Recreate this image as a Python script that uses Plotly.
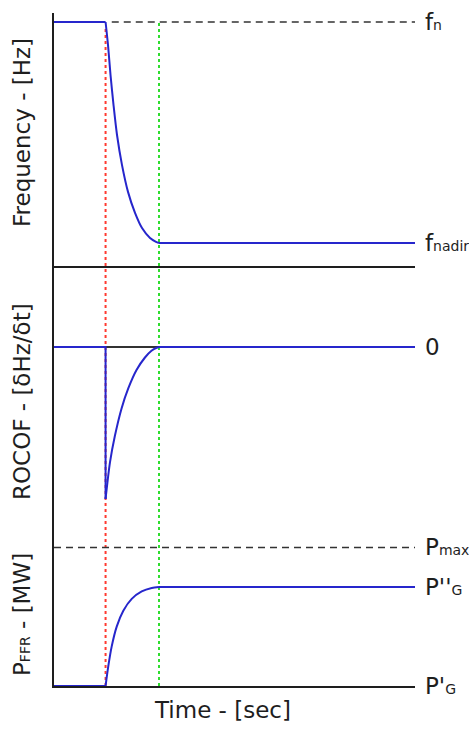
import plotly.graph_objects as go

# ---------------- data ----------------
# Frequency panel (Hz)
t_freq = [0, 1.0, 1.047, 1.096, 1.154, 1.222, 1.319, 1.435, 1.571, 1.707, 1.862, 1.978, 2.036, 7.0]
freq = [50.0, 50.0, 49.917, 49.808, 49.700, 49.591, 49.482, 49.385, 49.309, 49.254, 49.218, 49.204, 49.2, 49.2]
f_n = 50.0
f_nadir = 49.2

# ROCOF panel (normalised)
t_rocof = [0, 1.0, 1.0, 1.086, 1.18, 1.31, 1.44, 1.60, 1.76, 1.89, 1.99, 2.036, 7.0]
rocof = [0, 0, -0.99, -0.75, -0.58, -0.40, -0.27, -0.15, -0.07, -0.025, -0.005, 0, 0]

# FFR power panel (normalised, P'G = 0, P''G = 1)
t_p = [0, 1.0, 1.053, 1.119, 1.216, 1.344, 1.507, 1.701, 1.895, 2.036, 7.0]
p_ffr = [0, 0, 0.20, 0.40, 0.60, 0.76, 0.88, 0.955, 0.99, 1.0, 1.0]
p_g1 = 0.0
p_g2 = 1.0
p_max = 1.4

t_event = 1.0
t_nadir = 2.036
t_end = 7.0
t_fn_dash_start = 1.12

# ---------------- geometry (pixels of the 469x731 page) ----------------
W, H = 469, 731
L, R, T, B = 54, 54, 13, 45
top_px, bot_px = T, H - B           # 13 .. 686
ph = bot_px - top_px


def paper_y(px):
    return (bot_px - px) / ph


def rng(v1, p1, v2, p2, ptop, pbot):
    k = (v1 - v2) / (p2 - p1)       # value per pixel (upwards)
    return [v2 - (pbot - p2) * k, v1 + (p1 - ptop) * k]


p1_top, p1_bot = 13, 266
p2_top, p2_bot = 266, 520
p3_top, p3_bot = 520, 686

y1_range = rng(f_n, 22, f_nadir, 243, p1_top, p1_bot)
y2_range = rng(0, 347, -0.99, 499, p2_top, p2_bot)
y3_range = rng(p_g2, 587, p_g1, 686, p3_top, p3_bot)

BLUE = "#2626cc"
BLACK = "#1e1e1e"
FONT = "DejaVu Sans"

fig = go.Figure()

# reference dashed lines
fig.add_trace(go.Scatter(x=[t_fn_dash_start, t_end], y=[f_n, f_n], mode="lines",
                         line=dict(color="#333333", width=1.5, dash="7px,5px"),
                         xaxis="x", yaxis="y", hoverinfo="skip"))
fig.add_trace(go.Scatter(x=[0, t_end], y=[p_max, p_max], mode="lines",
                         line=dict(color="#333333", width=1.5, dash="7px,5px"),
                         xaxis="x3", yaxis="y3", hoverinfo="skip"))


def add_series(tx, ty, xa, ya, i0, i1):
    """flat parts drawn straight, transient part (indices i0..i1) smoothed"""
    fig.add_trace(go.Scatter(x=tx[:i0 + 1], y=ty[:i0 + 1], mode="lines",
                             line=dict(color=BLUE, width=2), xaxis=xa, yaxis=ya, cliponaxis=False))
    fig.add_trace(go.Scatter(x=tx[i0:i1 + 1], y=ty[i0:i1 + 1], mode="lines",
                             line=dict(color=BLUE, width=2, shape="spline", smoothing=0.8),
                             xaxis=xa, yaxis=ya, cliponaxis=False))
    fig.add_trace(go.Scatter(x=tx[i1:], y=ty[i1:], mode="lines",
                             line=dict(color=BLUE, width=2), xaxis=xa, yaxis=ya, cliponaxis=False))


add_series(t_freq, freq, "x", "y", 1, len(t_freq) - 2)
add_series(t_rocof, rocof, "x2", "y2", 2, len(t_rocof) - 2)
add_series(t_p, p_ffr, "x3", "y3", 1, len(t_p) - 2)

# vertical event markers across all panels
fig.add_shape(type="line", xref="x", yref="paper", x0=t_event, x1=t_event,
              y0=0, y1=paper_y(26), line=dict(color="#ff3a30", width=2, dash="3px,3px"),
              layer="below")
fig.add_shape(type="line", xref="x", yref="paper", x0=t_nadir, x1=t_nadir,
              y0=0, y1=paper_y(22), line=dict(color="#2fdc2f", width=2, dash="3px,3px"),
              layer="below")

ax_common = dict(showgrid=False, zeroline=False, showticklabels=False, ticks="")
line_style = dict(showline=True, linecolor=BLACK, linewidth=2)

fig.update_layout(
    width=W, height=H,
    margin=dict(l=L, r=R, t=T, b=B),
    paper_bgcolor="white", plot_bgcolor="white",
    showlegend=False,
    font=dict(family=FONT, color=BLACK),
    xaxis=dict(domain=[0, 1], anchor="y", range=[0, t_end], **ax_common, **line_style),
    xaxis2=dict(domain=[0, 1], anchor="y2", matches="x", range=[0, t_end], showline=False, **ax_common),
    xaxis3=dict(domain=[0, 1], anchor="y3", matches="x", range=[0, t_end], **ax_common, **line_style),
    yaxis=dict(domain=[paper_y(p1_bot), 1], anchor="x", range=y1_range, **ax_common, **line_style),
    yaxis2=dict(domain=[paper_y(p2_bot), paper_y(p2_top)], anchor="x2", range=y2_range,
                showgrid=False, showticklabels=False, ticks="",
                zeroline=True, zerolinecolor="#333333", zerolinewidth=2, **line_style),
    yaxis3=dict(domain=[0, paper_y(p3_top)], anchor="x3", range=y3_range, **ax_common, **line_style),
)

BIG = 23
SMALL = 14


def sm(s):
    return "<span style='font-size:%dpx'>%s</span>" % (SMALL, s)


right_labels = [
    ("f" + sm("n"), "y", f_n),
    ("f" + sm("nadir"), "y", f_nadir),
    ("0", "y2", 0),
    ("P" + sm("max"), "y3", p_max),
    ("P''" + sm("G"), "y3", p_g2),
    ("P'" + sm("G"), "y3", p_g1),
]
for txt, yref, yv in right_labels:
    fig.add_annotation(text=txt, xref="paper", x=1, xanchor="left", xshift=8,
                       yref=yref, y=yv, yanchor="middle", showarrow=False,
                       font=dict(size=BIG, family=FONT, color=BLACK))

left_labels = [
    ("Frequency - [Hz]", 133),
    ("ROCOF - [δHz/δt]", 402),
    ("P" + sm("FFR") + " - [MW]", 615),
]
for txt, py in left_labels:
    fig.add_annotation(text=txt, xref="paper", x=0, xanchor="center", xshift=-(L - 22),
                       yref="paper", y=paper_y(py), yanchor="middle", textangle=-90,
                       showarrow=False, font=dict(size=BIG, family=FONT, color=BLACK))

fig.add_annotation(text="Time - [sec]", xref="paper", x=(222 - L) / (W - L - R), xanchor="center",
                   yref="paper", y=0, yanchor="middle", yshift=-(710 - bot_px),
                   showarrow=False, font=dict(size=BIG, family=FONT, color=BLACK))

fig.write_html("out.html")
